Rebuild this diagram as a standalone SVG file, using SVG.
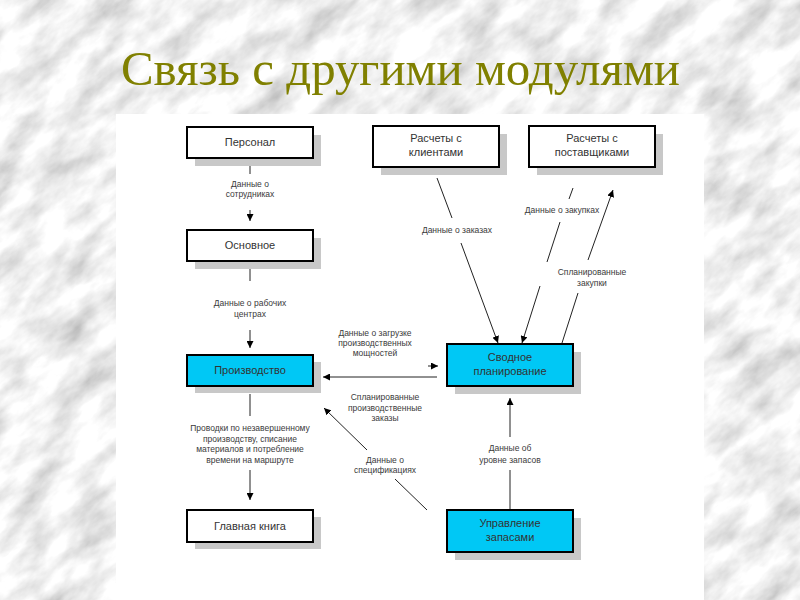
<svg xmlns="http://www.w3.org/2000/svg" width="800" height="600" viewBox="0 0 800 600">
<style>
.box{fill:#fff;stroke:#000;stroke-width:2}
.cyan{fill:#00c8f5;stroke:#000;stroke-width:2}
.shadow{fill:#c8c8c8}
.nt{font-family:"Liberation Sans",Arial,sans-serif;font-size:11px;fill:#333;text-anchor:middle}
.lt{font-family:"Liberation Sans",Arial,sans-serif;font-size:8.5px;fill:#3a3a3a;text-anchor:middle}
.ln{stroke:#222;stroke-width:1;fill:none}
</style>
<defs>
<filter id="marble" x="0" y="0" width="100%" height="100%">
<feTurbulence type="fractalNoise" baseFrequency="0.02 0.04" numOctaves="5" seed="11"/>
<feColorMatrix type="matrix" values="0.85 0 0 0 0.45  0.85 0 0 0 0.45  0.85 0 0 0 0.45  0 0 0 0 1"/>
</filter>
<marker id="ah" viewBox="0 0 10 10" refX="10" refY="5" markerWidth="7" markerHeight="7" markerUnits="userSpaceOnUse" orient="auto">
<path d="M0,0 L10,5 L0,10 z" fill="#000"/>
</marker>
</defs>
<rect width="800" height="600" fill="#e6e6e6"/>
<g transform="rotate(-40 400 300)">
<rect x="-300" y="-300" width="1400" height="1200" filter="url(#marble)"/>
</g>
<text x="121" y="85" font-family="Liberation Serif,Times New Roman,serif" font-size="48" fill="#808000" textLength="559" lengthAdjust="spacingAndGlyphs">Связь с другими модулями</text>
<rect x="116" y="114" width="588" height="486" fill="#fff"/>

<g id="connectors">
<line class="ln" x1="250" y1="166" x2="250" y2="174"/>
<line class="ln" x1="250" y1="210" x2="250" y2="221" marker-end="url(#ah)"/>
<line class="ln" x1="250" y1="267" x2="250" y2="281"/>
<line class="ln" x1="250" y1="330" x2="250" y2="348" marker-end="url(#ah)"/>
<line class="ln" x1="250" y1="394" x2="250" y2="416"/>
<line class="ln" x1="250" y1="470" x2="250" y2="500" marker-end="url(#ah)"/>
<line class="ln" x1="437" y1="377" x2="323" y2="377" marker-end="url(#ah)"/>
<line class="ln" x1="428" y1="366" x2="438" y2="366" marker-end="url(#ah)"/>
<line class="ln" x1="427" y1="510" x2="395" y2="479"/>
<line class="ln" x1="367" y1="450" x2="324" y2="408" marker-end="url(#ah)"/>
<line class="ln" x1="510" y1="510" x2="510" y2="470"/>
<line class="ln" x1="510" y1="437" x2="510" y2="398" marker-end="url(#ah)"/>
<line class="ln" x1="437" y1="178" x2="452" y2="218"/>
<line class="ln" x1="461" y1="243" x2="498" y2="343" marker-end="url(#ah)"/>
<line class="ln" x1="573" y1="188" x2="569" y2="199"/>
<line class="ln" x1="560" y1="222" x2="547" y2="262"/>
<line class="ln" x1="540" y1="286" x2="522" y2="343" marker-end="url(#ah)"/>
<line class="ln" x1="562" y1="343" x2="578" y2="293"/>
<line class="ln" x1="588" y1="260" x2="613" y2="190" marker-end="url(#ah)"/>
</g>

<g id="labels">
<text class="lt" x="250" y="187">Данные о</text>
<text class="lt" x="250" y="197">сотрудниках</text>
<text class="lt" x="250" y="306">Данные о рабочих</text>
<text class="lt" x="250" y="317">центрах</text>
<text class="lt" x="250" y="431">Проводки по незавершенному</text>
<text class="lt" x="250" y="442">производству, списание</text>
<text class="lt" x="250" y="452">материалов и потребление</text>
<text class="lt" x="250" y="463">времени на маршруте</text>
<text class="lt" x="375" y="336">Данные о загрузке</text>
<text class="lt" x="375" y="346">производственных</text>
<text class="lt" x="375" y="356">мощностей</text>
<text class="lt" x="385" y="400">Спланированные</text>
<text class="lt" x="385" y="411">производственные</text>
<text class="lt" x="385" y="421">заказы</text>
<text class="lt" x="385" y="463">Данные о</text>
<text class="lt" x="385" y="473">спецификациях</text>
<text class="lt" x="510" y="451">Данные об</text>
<text class="lt" x="510" y="463">уровне запасов</text>
<text class="lt" x="457" y="233">Данные о заказах</text>
<text class="lt" x="562" y="213">Данные о закупках</text>
<text class="lt" x="592" y="275">Спланированные</text>
<text class="lt" x="592" y="286">закупки</text>
</g>

<g id="personal">
<rect class="shadow" x="195" y="135" width="126" height="31"/>
<rect class="box" x="187" y="127" width="126" height="31"/>
<text class="nt" x="250" y="146">Персонал</text>
</g>
<g id="osnovnoe">
<rect class="shadow" x="195" y="238" width="126" height="31"/>
<rect class="box" x="187" y="230" width="126" height="31"/>
<text class="nt" x="250" y="249">Основное</text>
</g>
<g id="proizvodstvo">
<rect class="shadow" x="195" y="362" width="126" height="31"/>
<rect class="cyan" x="187" y="355" width="126" height="31"/>
<text class="nt" x="250" y="374">Производство</text>
</g>
<g id="glavnaya">
<rect class="shadow" x="195" y="517" width="126" height="32"/>
<rect class="box" x="187" y="510" width="126" height="32"/>
<text class="nt" x="250" y="530">Главная книга</text>
</g>
<g id="klienty">
<rect class="shadow" x="381" y="134" width="126" height="41"/>
<rect class="box" x="373" y="126" width="126" height="41"/>
<text class="nt" x="436" y="142">Расчеты с</text>
<text class="nt" x="436" y="156">клиентами</text>
</g>
<g id="postavshiki">
<rect class="shadow" x="537" y="134" width="126" height="41"/>
<rect class="box" x="529" y="126" width="126" height="41"/>
<text class="nt" x="592" y="142">Расчеты с</text>
<text class="nt" x="592" y="156">поставщиками</text>
</g>
<g id="svodnoe">
<rect class="shadow" x="455" y="352" width="126" height="42"/>
<rect class="cyan" x="447" y="344" width="126" height="42"/>
<text class="nt" x="510" y="361">Сводное</text>
<text class="nt" x="510" y="375">планирование</text>
</g>
<g id="zapasy">
<rect class="shadow" x="455" y="518" width="126" height="42"/>
<rect class="cyan" x="447" y="510" width="126" height="42"/>
<text class="nt" x="510" y="527">Управление</text>
<text class="nt" x="510" y="541">запасами</text>
</g>
</svg>
